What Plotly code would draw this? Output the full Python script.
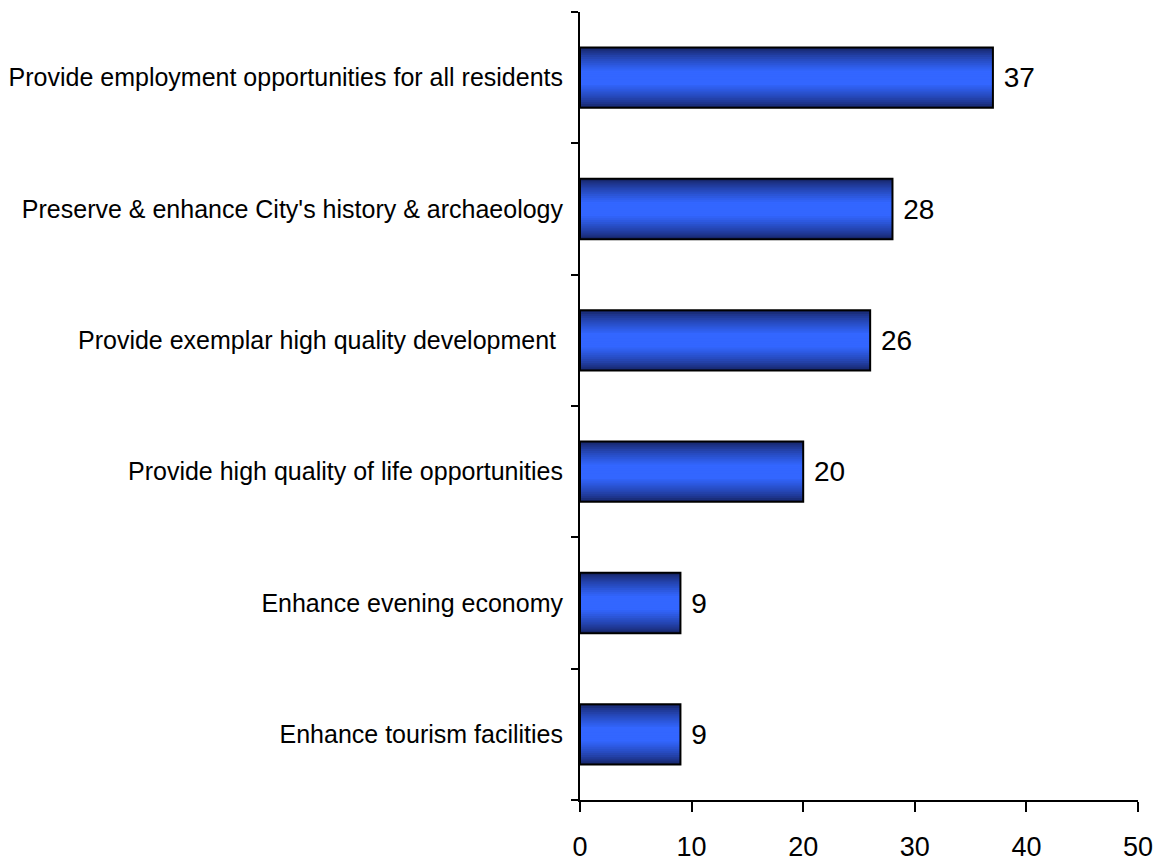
import plotly.graph_objects as go

categories = [
    "Enhance tourism facilities",
    "Enhance evening economy",
    "Provide high quality of life opportunities",
    "Provide exemplar high quality development ",
    "Preserve & enhance City's history & archaeology",
    "Provide employment opportunities for all residents",
]
values = [9, 9, 20, 26, 28, 37]
x_ticks = [0, 10, 20, 30, 40, 50]

BAR_WIDTH = 0.46
EDGE = (22, 36, 100)
CENTER = (51, 102, 255)
LAYERS = 16

fig = go.Figure()

# Shaded fill: bars drawn in place, narrowing toward the centre and getting lighter
for i in range(LAYERS):
    t = i / (LAYERS - 1)
    w = BAR_WIDTH * (1 - 0.95 * t)
    s = min(1.0, t / 0.8) ** 0.75
    col = tuple(round(EDGE[k] + (CENTER[k] - EDGE[k]) * s) for k in range(3))
    fig.add_trace(go.Bar(
        x=values, y=categories, orientation="h", width=w,
        marker=dict(color="rgb(%d,%d,%d)" % col, line=dict(width=0)),
        hoverinfo="skip", showlegend=False,
    ))

# Outline and value labels
fig.add_trace(go.Bar(
    x=values, y=categories, orientation="h", width=BAR_WIDTH,
    marker=dict(color="rgba(0,0,0,0)", line=dict(color="black", width=2)),
    text=[" %d" % v for v in values], textposition="outside",
    textfont=dict(family="Liberation Sans, Arial", size=28, color="black"),
    cliponaxis=False, showlegend=False,
))

fig.update_layout(
    width=1163, height=863,
    margin=dict(l=580, r=25, t=12, b=63),
    paper_bgcolor="white", plot_bgcolor="white",
    barmode="overlay",
    font=dict(family="Liberation Sans, Arial", color="black"),
    xaxis=dict(
        range=[0, 50], tickvals=x_ticks, ticktext=[str(v) for v in x_ticks],
        showgrid=False, zeroline=False, showline=True, linecolor="black", linewidth=2,
        ticks="outside", ticklen=10, tickwidth=2, tickcolor="black",
        tickfont=dict(size=27), ticklabelstandoff=12, automargin=False,
    ),
    yaxis=dict(
        type="category", categoryorder="array", categoryarray=categories,
        showgrid=False, zeroline=False, showline=True, linecolor="black", linewidth=2,
        ticks="outside", ticklen=7, tickwidth=2, tickcolor="black", tickson="boundaries",
        tickfont=dict(size=25), ticklabelstandoff=10, automargin=False,
    ),
    uniformtext=dict(mode=False),
)

fig.write_html("out.html")
